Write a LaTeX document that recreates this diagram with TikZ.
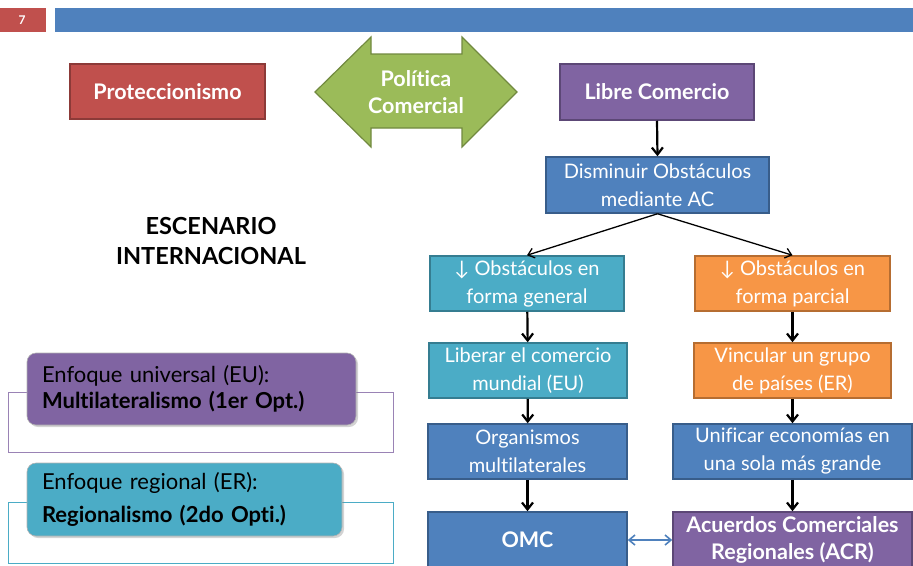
\documentclass[tikz,border=0pt]{standalone}
\usepackage{fontspec}
\setmainfont{Lato}[Ligatures={NoCommon}]
\usetikzlibrary{arrows.meta,shadows}
\definecolor{cred}{HTML}{C0504D}\definecolor{credd}{HTML}{8C3A38}
\definecolor{cgreen}{HTML}{9BBB59}\definecolor{cgreend}{HTML}{71893F}
\definecolor{cpurp}{HTML}{8064A2}\definecolor{cpurpd}{HTML}{5C4776}
\definecolor{cblue}{HTML}{4F81BD}\definecolor{cblued}{HTML}{385D8A}
\definecolor{ccyan}{HTML}{4BACC6}\definecolor{ccyand}{HTML}{357D91}
\definecolor{corange}{HTML}{F79646}\definecolor{coranged}{HTML}{B66D31}
\begin{document}
\begin{tikzpicture}[x=1pt,y=-1pt,
  flowbox/.style={draw, line width=1.5pt, text=white, align=center, inner sep=0pt,
     font=\fontsize{20}{28}\selectfont},
  titlebox/.style={draw, line width=1.5pt, text=white, align=center, inner sep=0pt,
     font=\fontsize{21.5}{27}\selectfont\bfseries},
  vflow/.style={line width=2.2pt, -{Straight Barb[length=7pt,width=11pt]}},
  dflow/.style={line width=1.3pt, -{Straight Barb[length=6pt,width=10pt]}},
  leftbox/.style={rounded corners=9pt, draw=white!70!black, line width=0.6pt, drop shadow={shadow xshift=2pt,shadow yshift=-2pt,opacity=0.35},
     align=left, inner sep=0pt, font=\fontsize{22}{27}\selectfont}
]
\useasboundingbox (0,0) rectangle (913,565);
% header
\node[fill=cred, minimum width=48pt, minimum height=24pt, inner sep=0pt, text=white,
      font=\fontsize{12}{14}\selectfont\bfseries] (num) at (22,20) {7};
\node[fill=cblue, minimum width=858pt, minimum height=24pt, inner sep=0pt] (bar) at (484,20) {};
% top row
\node[titlebox, fill=cred, draw=credd, minimum width=195pt, minimum height=55pt] (prot) at (167.5,91.5) {Proteccionismo};
\draw[fill=cgreen, draw=cgreend, line width=1.2pt] (315,92) -- (371,37) -- (371,54) -- (462,54) -- (462,37) -- (517,92) -- (462,147) -- (462,128) -- (371,128) -- (371,147) -- cycle;
\node[text=white, align=center, font=\fontsize{21.5}{27}\selectfont\bfseries] (pol) at (416,92) {Política\\Comercial};
\node[titlebox, fill=cpurp, draw=cpurpd, minimum width=194pt, minimum height=56pt] (libre) at (657,92) {Libre Comercio};
% flow
\node[flowbox, fill=cblue, draw=cblued, minimum width=223pt, minimum height=56pt] (dism) at (657.5,185) {Disminuir Obstáculos\\mediante AC};
\node[flowbox, fill=ccyan, draw=ccyand, minimum width=194pt, minimum height=55pt] (gen) at (527,283.5) {↓ Obstáculos en\\forma general};
\node[flowbox, fill=corange, draw=coranged, minimum width=195pt, minimum height=55pt] (par) at (792.5,283.5) {↓ Obstáculos en\\forma parcial};
\node[flowbox, fill=ccyan, draw=ccyand, minimum width=198pt, minimum height=55pt] (lib) at (528,370.5) {Liberar el comercio\\mundial (EU)};
\node[flowbox, fill=corange, draw=coranged, minimum width=197pt, minimum height=55pt] (vin) at (792.5,370.5) {Vincular un grupo\\de países (ER)};
\node[flowbox, fill=cblue, draw=cblued, minimum width=199pt, minimum height=55pt] (org) at (527.5,451.5) {Organismos\\multilaterales};
\node[flowbox, fill=cblue, draw=cblued, minimum width=239pt, minimum height=55pt] (uni) at (792.5,451.5) {Unificar economías en\\una sola más grande};
\node[titlebox, fill=cblue, draw=cblued, minimum width=199pt, minimum height=56pt] (omc) at (527.5,540) {OMC};
\node[titlebox, fill=cpurp, draw=cpurpd, minimum width=239pt, minimum height=56pt] (acr) at (792.5,540) {Acuerdos Comerciales\\Regionales (ACR)};
% connectors
\draw[vflow] (libre.south) -- (dism.north);
\draw[dflow] (dism.south) -- (gen.north);
\draw[dflow] (dism.south) -- (par.north);
\draw[vflow] (gen) -- (lib);
\draw[vflow] (par) -- (vin);
\draw[vflow] (lib) -- (org);
\draw[vflow] (vin) -- (uni);
\draw[vflow] (org) -- (omc);
\draw[vflow] (uni) -- (acr);
\draw[cblue, line width=1.6pt, {Straight Barb[length=6pt,width=10pt]}-{Straight Barb[length=6pt,width=10pt]}] (omc.east) -- (acr.west);
% left side
\node[align=center, font=\fontsize{23.5}{30}\selectfont\bfseries] (esc) at (211,241) {ESCENARIO\\INTERNACIONAL};
\draw[cpurp!80, line width=0.8pt] (8,392) rectangle (393,452);
\draw[ccyan, line width=0.8pt] (8,502) rectangle (393,563);
\node[leftbox, fill=cpurp, text width=299pt, minimum width=329pt, minimum height=72pt] (eu) at (191.5,389)
  {Enfoque universal (EU):\\[-1pt]\textbf{Multilateralismo (1er Opt.)}};
\node[leftbox, fill=ccyan, text width=285pt, minimum width=315pt, minimum height=73pt] (er) at (184.5,499.5)
  {Enfoque regional (ER):\\[6pt]\textbf{Regionalismo (2do Opti.)}};
\end{tikzpicture}
\end{document}
